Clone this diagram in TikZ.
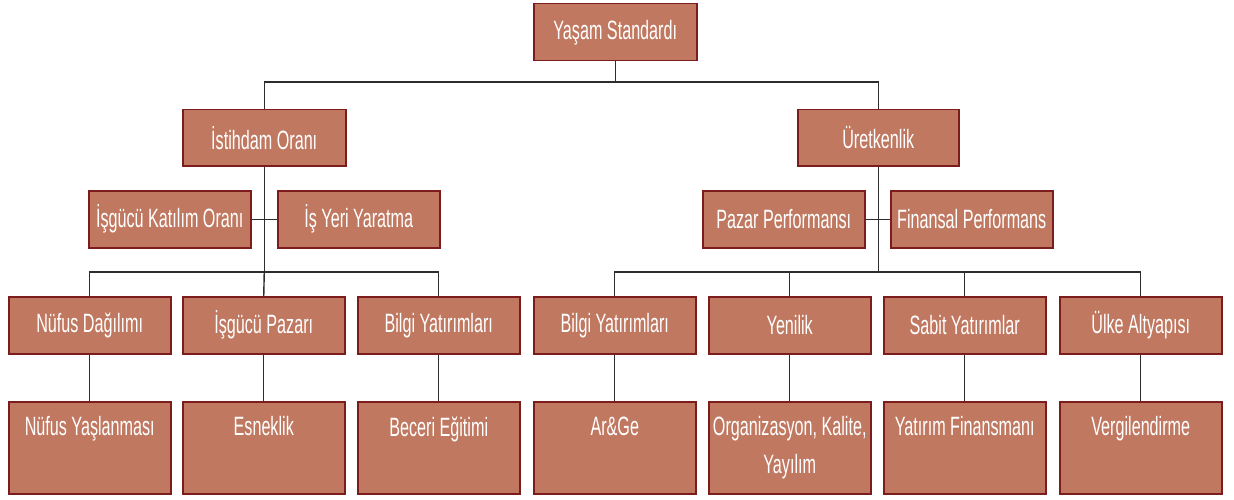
\documentclass[tikz,border=0pt]{standalone}
\usepackage{fontspec}
\setmainfont{Liberation Sans}[FakeStretch=0.61]
\definecolor{boxfill}{RGB}{192,120,96}
\definecolor{boxline}{RGB}{125,28,28}
\definecolor{conn}{RGB}{45,45,45}
\begin{document}
\begin{tikzpicture}[x=1pt,y=-1pt,
  bx/.style={draw=boxline,line width=1.5pt,fill=boxfill,text=white,
    font=\fontsize{26.5}{30}\selectfont,inner sep=0pt,
    minimum width=162pt,minimum height=57pt,anchor=north west},
  bigbx/.style={bx,minimum height=92pt},
  cn/.style={draw=conn,line width=1.4pt}]
\useasboundingbox (0,0) rectangle (1234,500);
\newcommand{\toptext}[1]{\parbox[t][86pt][t]{158pt}{\centering\fontsize{26.5}{38}\selectfont\vspace*{12pt}#1\par}}
% level 0
\node[bx,minimum width=163pt] (ys) at (533,3) {Yaşam Standardı};
% level 1
\node[bx,minimum width=163pt,minimum height=56pt] (io) at (182,109) {İstihdam Oranı};
\node[bx,minimum width=161pt,minimum height=56pt] (ur) at (797,109) {Üretkenlik};
% level 2
\node[bx] (iko) at (88,190) {İşgücü Katılım Oranı};
\node[bx] (iyy) at (277,190) {İş Yeri Yaratma};
\node[bx] (pp) at (702,190) {Pazar Performansı};
\node[bx] (fp) at (890,190) {Finansal Performans};
% level 3
\node[bx] (nd) at (8,296) {Nüfus Dağılımı};
\node[bx] (ip) at (182,296) {İşgücü Pazarı};
\node[bx] (by1) at (357,296) {Bilgi Yatırımları};
\node[bx] (by2) at (533,296) {Bilgi Yatırımları};
\node[bx] (yn) at (708,296) {Yenilik};
\node[bx] (sy) at (883,296) {Sabit Yatırımlar};
\node[bx] (ua) at (1059,296) {Ülke Altyapısı};
% level 4
\node[bigbx] (ny) at (8,401) {\toptext{Nüfus Yaşlanması}};
\node[bigbx] (es) at (182,401) {\toptext{Esneklik}};
\node[bigbx] (be) at (357,401) {\toptext{Beceri Eğitimi}};
\node[bigbx] (ag) at (533,401) {\toptext{Ar\&Ge}};
\node[bigbx] (ok) at (708,401) {\toptext{Organizasyon, Kalite,\\Yayılım}};
\node[bigbx] (yf) at (883,401) {\toptext{Yatırım Finansmanı}};
\node[bigbx] (vg) at (1059,401) {\toptext{Vergilendirme}};
% connectors
\coordinate (j0) at (ys.south |- 0,82);
\coordinate (jl) at (io.south |- 0,272);
\coordinate (jr) at (ur.south |- 0,272);
\draw[cn] (ys.south) -- (j0);
\draw[cn] (io.north) |- (j0) -| (ur.north);
\draw[cn] (io.south) -- (jl);
\draw[cn] (iko.east) -- (iyy.west);
\draw[cn] (jl) -| (nd.north);
\draw[cn] (jl) -- (ip.north);
\draw[cn] (jl) -| (by1.north);
\draw[cn] (ur.south) -- (jr);
\draw[cn] (pp.east) -- (fp.west);
\draw[cn] (jr) -| (by2.north);
\draw[cn] (jr) -| (yn.north);
\draw[cn] (jr) -| (sy.north);
\draw[cn] (jr) -| (ua.north);
\draw[cn] (nd.south) -- (ny.north);
\draw[cn] (ip.south) -- (es.north);
\draw[cn] (by1.south) -- (be.north);
\draw[cn] (by2.south) -- (ag.north);
\draw[cn] (yn.south) -- (ok.north);
\draw[cn] (sy.south) -- (yf.north);
\draw[cn] (ua.south) -- (vg.north);
\end{tikzpicture}
\end{document}
